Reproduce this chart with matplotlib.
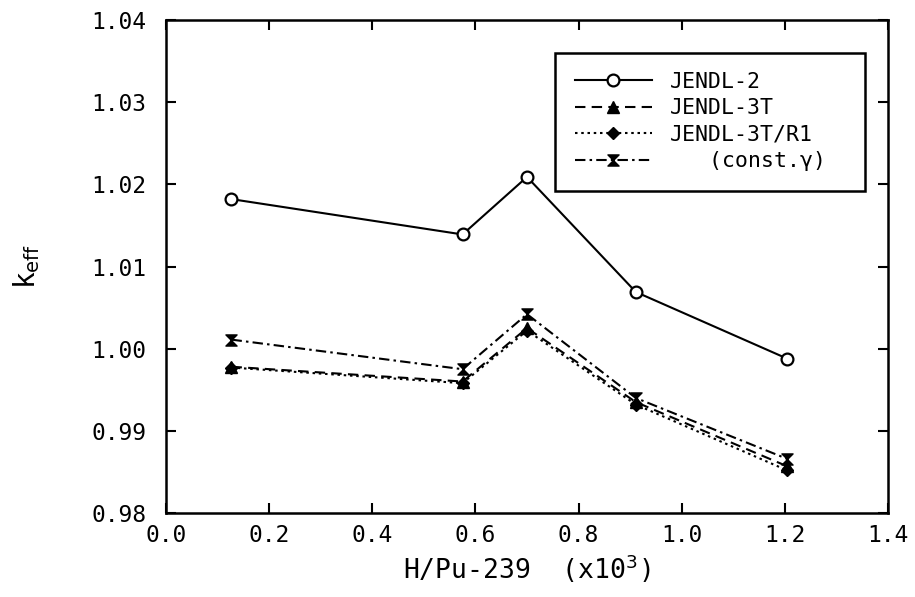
import matplotlib
matplotlib.use("Agg")
import matplotlib.pyplot as plt
from matplotlib.path import Path

# H/Pu-239 ratio (x10^3) and k_eff for each nuclear data library
h_pu = [0.127, 0.575, 0.700, 0.911, 1.204]
jendl2 = [1.0182, 1.0139, 1.0209, 1.0069, 0.9988]
jendl3t = [0.9978, 0.9960, 1.0025, 0.9935, 0.9857]
jendl3t_r1 = [0.9977, 0.9958, 1.0022, 0.9932, 0.9852]
const_gamma = [1.0011, 0.9975, 1.0042, 0.9940, 0.9866]

labels = ["JENDL-2", "JENDL-3T", "JENDL-3T/R1", "   (const.γ)"]
xticks = [0.0, 0.2, 0.4, 0.6, 0.8, 1.0, 1.2, 1.4]
yticks = [0.98, 0.99, 1.00, 1.01, 1.02, 1.03, 1.04]

plt.rcParams["font.family"] = ["DejaVu Sans Mono", "DejaVu Sans"]

# hourglass marker: two triangles meeting at the centre
hourglass = Path(
    [(-1, 1), (1, 1), (0, 0), (-1, -1), (1, -1), (0, 0), (-1, 1)],
    [Path.MOVETO, Path.LINETO, Path.LINETO, Path.LINETO, Path.LINETO,
     Path.LINETO, Path.CLOSEPOLY],
)

fig = plt.figure(figsize=(9.15, 5.97), dpi=100)
ax = fig.add_axes([166 / 915, 1 - 513 / 597, 722 / 915, 493 / 597])

lw = 1.5
ax.plot(h_pu, jendl2, color="black", lw=lw, ls="-", marker="o", ms=8.5,
        mfc="white", mec="black", mew=1.6, label=labels[0])
ax.plot(h_pu, jendl3t, color="black", lw=lw, ls=(0, (5, 3)), marker="^",
        ms=8, mfc="black", mec="black", label=labels[1])
ax.plot(h_pu, jendl3t_r1, color="black", lw=lw, ls=(0, (1.2, 1.8)),
        marker="D", ms=6.5, mfc="black", mec="black", label=labels[2])
ax.plot(h_pu, const_gamma, color="black", lw=lw, ls=(0, (5, 2, 1.2, 2)),
        marker=hourglass, ms=8, mfc="black", mec="black", label=labels[3])

ax.set_xlim(0.0, 1.4)
ax.set_ylim(0.98, 1.04)
ax.set_xticks(xticks)
ax.set_xticklabels([f"{v:.1f}" for v in xticks])
ax.set_yticks(yticks)
ax.set_yticklabels([f"{v:.2f}" for v in yticks])

ax.tick_params(axis="both", direction="in", length=7, width=1.5,
               labelsize=16.5, top=True, right=True)
ax.tick_params(axis="y", pad=14)
ax.tick_params(axis="x", pad=8)
for s in ax.spines.values():
    s.set_linewidth(1.8)

ax.set_xlabel("H/Pu-239  (x10$^{3}$)", fontsize=19, labelpad=4)
ax.set_ylabel("k$_{\\rm eff}$", fontsize=20, labelpad=36)

leg = ax.legend(loc="upper left", bbox_to_anchor=(0.539, 0.631, 0.429, 0.303),
                mode="expand", fontsize=15.5, handlelength=3.6,
                labelspacing=0.3, borderpad=0.9, handletextpad=0.85,
                frameon=True, fancybox=False, edgecolor="black",
                framealpha=1, borderaxespad=0)
leg.get_frame().set_linewidth(1.8)

fig.savefig("out.png", dpi=100, facecolor="white")
